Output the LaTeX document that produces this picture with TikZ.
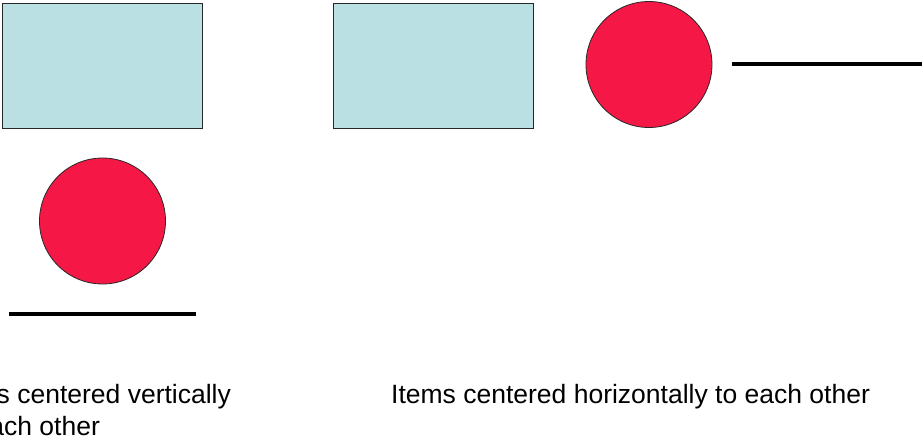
\documentclass[tikz,border=0pt]{standalone}
\usepackage{fontspec}
\setmainfont{Liberation Sans}
\usepackage{tikz}
\definecolor{boxcyan}{RGB}{187,224,227}
\definecolor{dotred}{RGB}{245,23,69}
\definecolor{edgegray}{RGB}{40,40,40}
\tikzset{
  itembox/.style={draw=edgegray,fill=boxcyan,line width=1pt,minimum width=200pt,minimum height=125pt,inner sep=0pt},
  itemdot/.style={circle,draw=edgegray,fill=dotred,line width=0.8pt,minimum size=126pt,inner sep=0pt},
  itembar/.style={draw=black,line width=3.3pt},
  itemlabel/.style={inner sep=0pt,font=\fontsize{26.5}{32}\selectfont}
}

\begin{document}
\begin{tikzpicture}[x=1pt,y=-1pt]
    \useasboundingbox (0,0) rectangle (922,440);
    \node[itembox] (vbox) at (102.5,65.5) {};
    \node[itemdot] (vdot) at (102.5,221) {};
    \coordinate (vbarl) at (9,314);
    \coordinate (vbarr) at (196,314);
    \draw[itembar] (vbarl) -- (vbarr);
    \node[itemlabel,anchor=base west,align=left] (vtext) at (-55,435) {Items centered vertically\\to each other};
    \node[itembox] (hbox) at (433.5,65.5) {};
    \node[itemdot] (hdot) at (649,64.5) {};
    \coordinate (hbarl) at (732,64);
    \coordinate (hbarr) at (930,64);
    \draw[itembar] (hbarl) -- (hbarr);
    \node[itemlabel,anchor=base west] (htext) at (391,403) {Items centered horizontally to each other};
  \end{tikzpicture}
\end{document}
